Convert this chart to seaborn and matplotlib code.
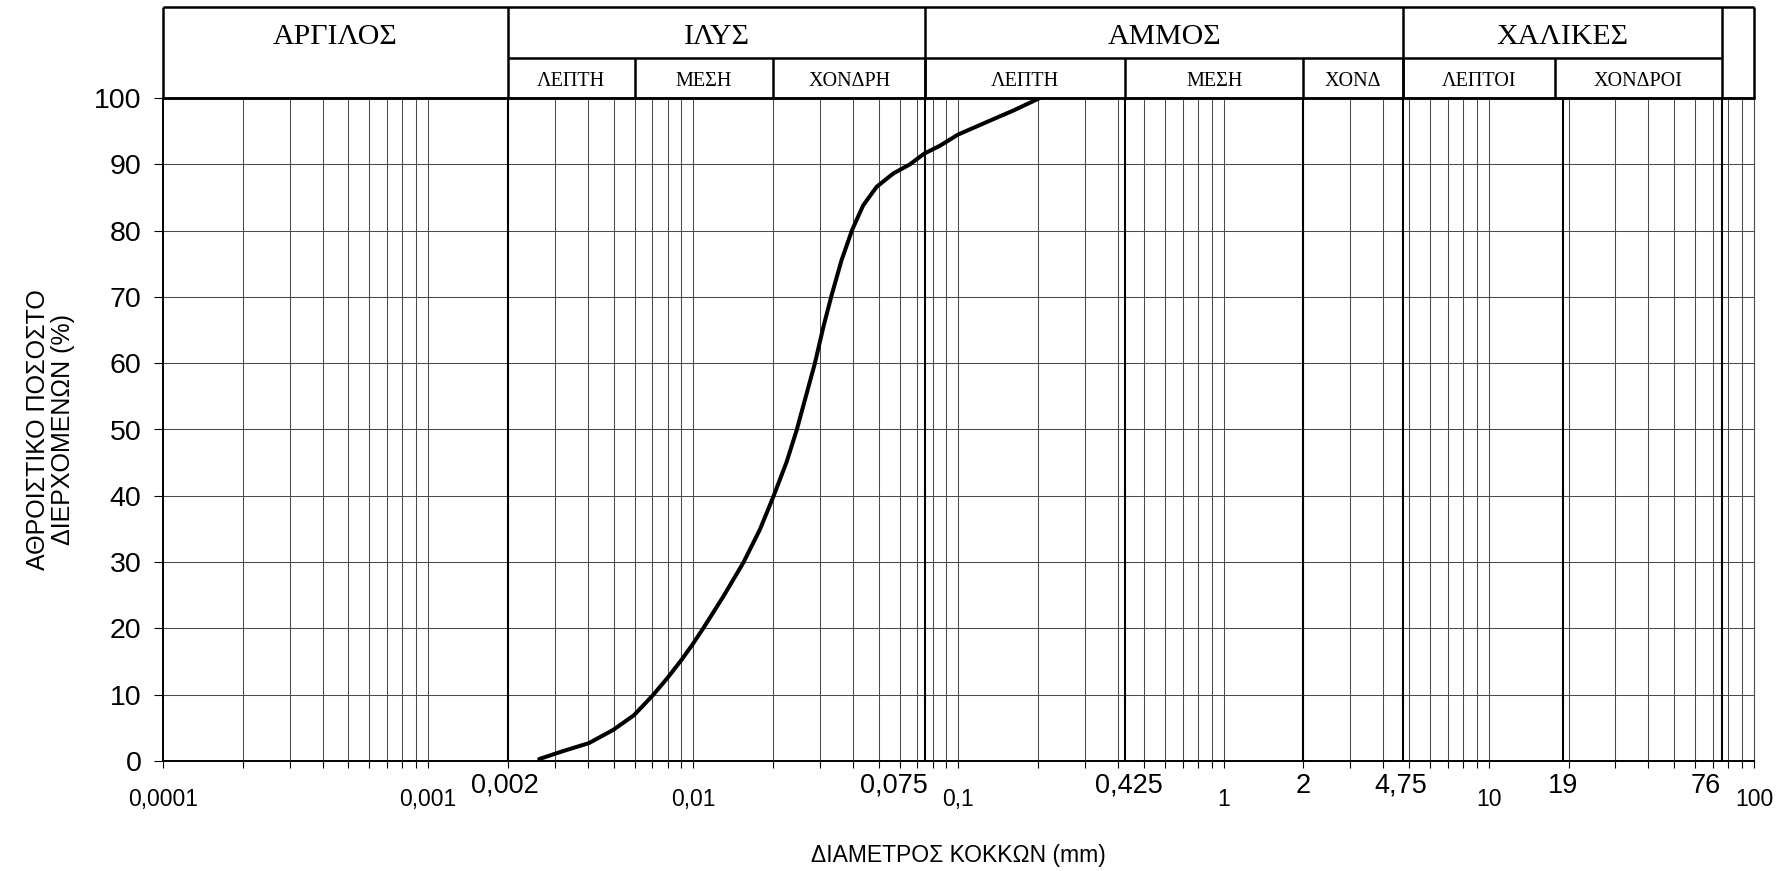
import numpy as np
import pandas as pd
import matplotlib
matplotlib.use("Agg")
import matplotlib.pyplot as plt
import seaborn as sns
from matplotlib.ticker import LogLocator, NullFormatter, FixedLocator, FixedFormatter

# ---------------- data ----------------
diameter_mm = [0.002624, 0.00323, 0.00404, 0.00499, 0.00597, 0.00703, 0.00798, 0.00904,
               0.0099, 0.01089, 0.01297, 0.01543, 0.01782, 0.0200, 0.02248, 0.02453,
               0.02674, 0.02874, 0.0309, 0.0332, 0.0362, 0.0397, 0.0437, 0.0491,
               0.0567, 0.0656, 0.0742, 0.0851, 0.0998, 0.1352, 0.1608, 0.2028]
passing_pct = [0.3, 1.5, 2.7, 4.7, 6.9, 9.9, 12.5, 15.3,
               17.5, 20.0, 24.8, 29.9, 34.9, 39.8, 45.1, 49.9,
               55.4, 60.0, 65.4, 70.2, 75.5, 80.1, 83.8, 86.6,
               88.6, 90.0, 91.6, 92.8, 94.5, 96.8, 98.1, 100.0]

decade_ticks = [1e-4, 1e-3, 1e-2, 1e-1, 1, 10, 100]
decade_labels = ["0,0001", "0,001", "0,01", "0,1", "1", "10", "100"]

boundary_values = [0.002, 0.075, 0.425, 2, 4.75, 19, 76]
boundary_labels = ["0,002", "0,075", "0,425", "2", "4,75", "19", "76"]

y_ticks = [0, 10, 20, 30, 40, 50, 60, 70, 80, 90, 100]

main_classes = ["ΑΡΓΙΛΟΣ", "ΙΛΥΣ", "ΑΜΜΟΣ", "ΧΑΛΙΚΕΣ", ""]
main_class_edges = [0.0001, 0.002, 0.075, 4.75, 76, 100]
sub_classes = ["ΛΕΠΤΗ", "ΜΕΣΗ", "ΧΟΝΔΡΗ", "ΛΕΠΤΗ", "ΜΕΣΗ", "ΧΟΝΔ", "ΛΕΠΤΟΙ", "ΧΟΝΔΡΟΙ"]
sub_class_edges = [0.002, 0.006, 0.02, 0.075, 0.425, 2, 4.75, 17.7, 76]

x_label = "ΔΙΑΜΕΤΡΟΣ ΚΟΚΚΩΝ (mm)"
y_label = "ΑΘΡΟΙΣΤΙΚΟ ΠΟΣΟΣΤΟ\nΔΙΕΡΧΟΜΕΝΩΝ (%)"

# ---------------- styling ----------------
label_shift_px = [-3, -31, 4, 0, -2, 0, -17]   # horizontal nudges of boundary labels

sns.set_theme(style="white")
plt.rcParams["font.family"] = ["Liberation Sans", "DejaVu Sans"]
SERIF = ["Liberation Serif", "DejaVu Serif"]

W, H, DPI = 1789, 871, 100
fig = plt.figure(figsize=(W / DPI, H / DPI), dpi=DPI)

ax_left, ax_right, ax_bottom, ax_top = 163, 1754, 761, 98
head_top = 7
ax = fig.add_axes([ax_left / W, 1 - ax_bottom / H, (ax_right - ax_left) / W, (ax_bottom - ax_top) / H])
axh = fig.add_axes([ax_left / W, 1 - ax_top / H, (ax_right - ax_left) / W, (ax_top - head_top) / H], sharex=ax)

df = pd.DataFrame({"d": diameter_mm, "p": passing_pct})
sns.lineplot(data=df, x="d", y="p", ax=ax, color="black", linewidth=2.9,
             sort=False, estimator=None, zorder=5,
             solid_joinstyle="round", solid_capstyle="round")

ax.set_xscale("log")
ax.set_xlim(1e-4, 100)
ax.set_ylim(0, 100)

grid_col = "#4a4a4a"
ax.xaxis.set_major_locator(FixedLocator(decade_ticks))
ax.xaxis.set_major_formatter(FixedFormatter(decade_labels))
ax.xaxis.set_minor_locator(LogLocator(base=10, subs=np.arange(2, 10)))
ax.xaxis.set_minor_formatter(NullFormatter())
ax.set_yticks(y_ticks)
ax.set_yticklabels([str(v) for v in y_ticks])

ax.grid(True, which="both", axis="x", color=grid_col, linewidth=0.75)
ax.grid(True, which="major", axis="y", color=grid_col, linewidth=0.75)

for v in boundary_values:
    ax.axvline(v, color="black", linewidth=1.5, zorder=3)

ax.tick_params(axis="x", which="both", direction="out", length=5, width=0.8,
               color="black", labelsize=16.5, pad=14.5, bottom=True)
ax.tick_params(axis="y", which="major", direction="out", length=6.5, width=0.8,
               color="black", labelsize=20.5, pad=9, left=True)
for lab in ax.get_xticklabels():
    lab.set_color("black")
for lab in ax.get_yticklabels():
    lab.set_color("black")

for s in ["left", "bottom"]:
    ax.spines[s].set_color("black")
    ax.spines[s].set_linewidth(1.4)
ax.spines["top"].set_color("black")
ax.spines["top"].set_linewidth(1.8)
ax.spines["right"].set_color(grid_col)
ax.spines["right"].set_linewidth(0.8)

# boundary labels under the axis
for v, lab, dx in zip(boundary_values, boundary_labels, label_shift_px):
    ax.annotate(lab, xy=(v, 0), xycoords=("data", "axes fraction"),
                xytext=(dx * 0.72, -8.5), textcoords="offset points",
                ha="center", va="top", fontsize=19.5, color="black")

ax.set_xlabel(x_label, fontsize=16.5, color="black", labelpad=24)
ax.set_ylabel(y_label, fontsize=18, color="black", labelpad=14, linespacing=1.05)

# ---------------- header with soil classes ----------------
axh.set_ylim(0, 1)
axh.axis("off")
mid = (ax_top - 58) / (ax_top - head_top)
lw_h = 1.8
axh.hlines([0, 1], main_class_edges[0], main_class_edges[-1], color="black", linewidth=lw_h, clip_on=False)
axh.hlines([mid], main_class_edges[1], main_class_edges[-2], color="black", linewidth=lw_h, clip_on=False)
axh.vlines(main_class_edges, 0, 1, color="black", linewidth=lw_h, clip_on=False)
axh.vlines(sub_class_edges[1:-1], 0, mid, color="black", linewidth=lw_h, clip_on=False)

for name, a, b in zip(main_classes, main_class_edges[:-1], main_class_edges[1:]):
    if name:
        axh.text(np.sqrt(a * b), (1 + mid) / 2 - 0.05, name, ha="center", va="center",
                 fontsize=21.5, family=SERIF, color="black")
for name, a, b in zip(sub_classes, sub_class_edges[:-1], sub_class_edges[1:]):
    axh.text(np.sqrt(a * b), mid / 2 - 0.035, name, ha="center", va="center",
             fontsize=14.5, family=SERIF, color="black")

fig.savefig("out.png", dpi=DPI, facecolor="white")
